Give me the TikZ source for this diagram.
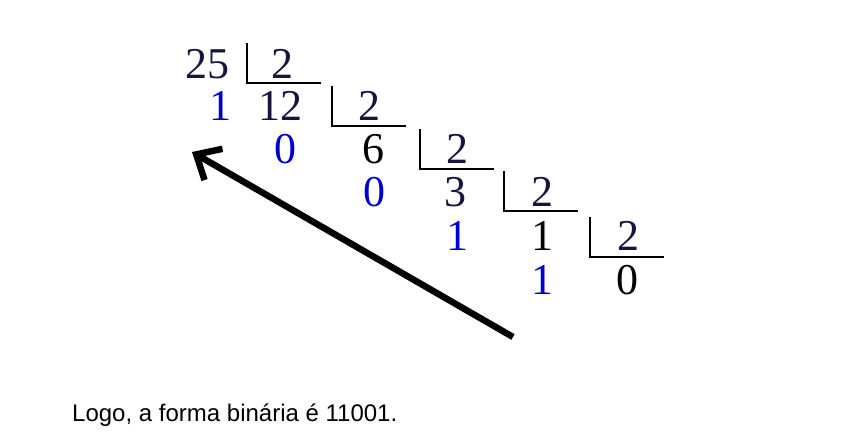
\documentclass[tikz,border=0pt]{standalone}
\usepackage{fontspec}
\setmainfont{Liberation Serif}
\newfontfamily\notefont{Liberation Sans}
\usetikzlibrary{arrows.meta}
\definecolor{num-navy}{HTML}{15153F}
\definecolor{rest-blue}{HTML}{0000CC}

\begin{document}
\begin{tikzpicture}[
    x=1pt, y=-1pt,
    >={Straight Barb[length=20pt, width=36pt]},
    num/.style={font=\fontsize{44}{44}\selectfont, inner sep=0pt, anchor=base, text=num-navy},
    quot/.style={num, text=black},
    rest/.style={num, text=rest-blue},
    bracket/.style={line width=2.4pt, draw=black}
]
\useasboundingbox (0,0) rectangle (841,433);

% dividends and divisors
\node[num] (n25) at (207,79) {25};
\node[num] (d1) at (282,79) {2};
\node[num] (n12) at (280,121) {12};
\node[num] (d2) at (369,121) {2};
\node[quot] (n6) at (373,164) {6};
\node[num] (d3) at (457,164) {2};
\node[num] (n3) at (455,206) {3};
\node[num] (d4) at (542,206) {2};
\node[quot] (n1) at (542,250) {1};
\node[num] (d5) at (628,250) {2};
\node[quot] (n0) at (627,294) {0};

% remainders
\node[rest] (r1) at (220,121) {1};
\node[rest] (r2) at (285,164) {0};
\node[rest] (r3) at (374,206) {0};
\node[rest] (r4) at (457,250) {1};
\node[rest] (r5) at (542,294) {1};

% division brackets
\foreach \x/\y in {247/83,332/126,420/169,504/211,590/257} {
    \draw[bracket] (\x,\y-40) -- (\x,\y) -- (\x+74,\y);
}

% read the remainders upwards
\coordinate (tail) at (513,337);
\coordinate (head) at (192,152);
\draw[->, line width=6.5pt] (tail) -- (head);

\node[font=\notefont\fontsize{24}{28}\selectfont, anchor=base west, inner sep=0pt] (note) at (72,421) {Logo, a forma binária é 11001.};
\end{tikzpicture}
\end{document}
